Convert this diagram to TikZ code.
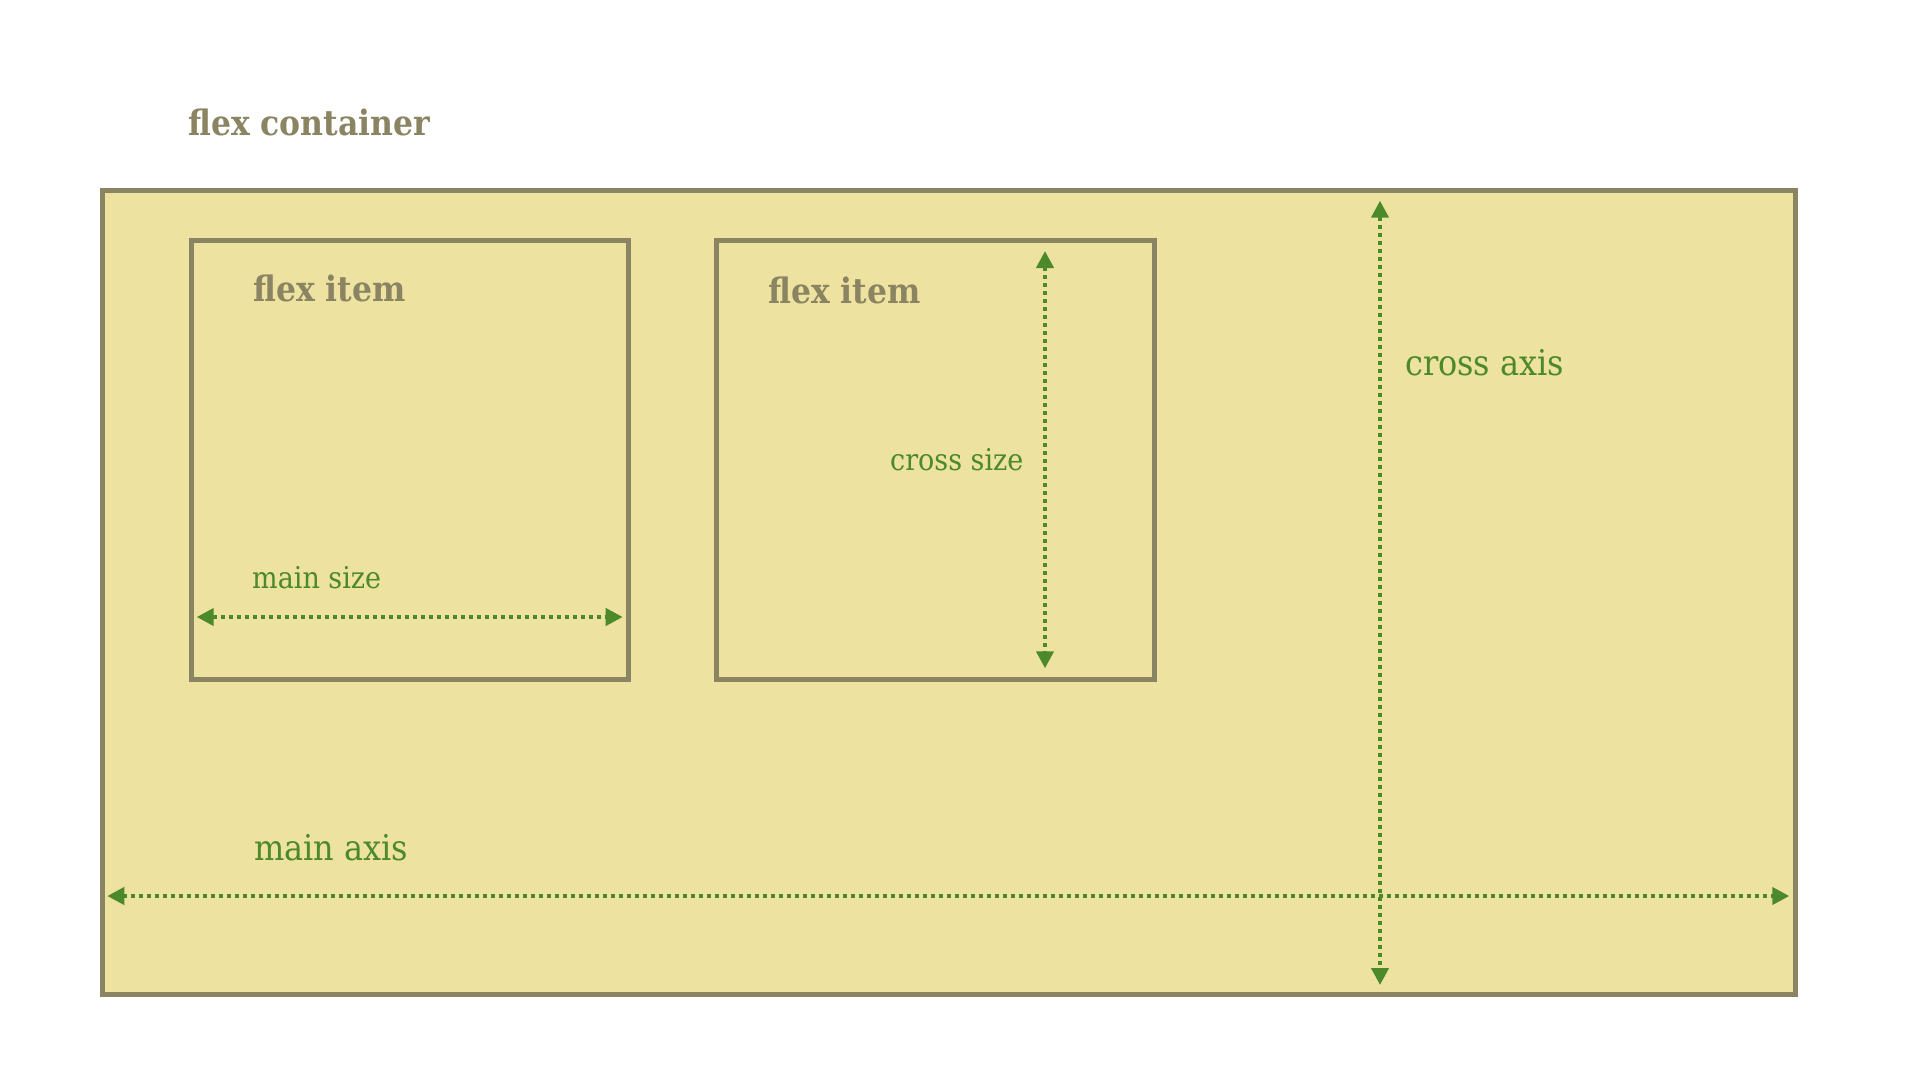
\documentclass[tikz,border=0pt]{standalone}
\usepackage{fontspec}
\setmainfont{DejaVu Serif Condensed}
\usetikzlibrary{arrows.meta}
\definecolor{boxfill}{HTML}{EDE29F}
\definecolor{boxline}{HTML}{8A8462}
\definecolor{arrowgreen}{HTML}{4C892B}
\tikzset{
  containerbox/.style={draw=boxline, fill=boxfill, line width=5pt, inner sep=0pt, outer sep=0pt},
  itembox/.style={draw=boxline, line width=5pt, inner sep=0pt, outer sep=0pt},
  titletext/.style={anchor=base west, inner sep=0pt, text=boxline, font=\bfseries\fontsize{35}{38}\selectfont},
  biglabel/.style={anchor=base west, inner sep=0pt, text=arrowgreen, font=\fontsize{35.5}{38}\selectfont},
  smalllabel/.style={anchor=base west, inner sep=0pt, text=arrowgreen, font=\fontsize{30}{32}\selectfont},
  dotarrow/.style={draw=arrowgreen, line width=4pt, dash pattern=on 4pt off 4pt,
    {Triangle[length=17pt,width=17pt]}-{Triangle[length=17pt,width=17pt]}}
}
\begin{document}
\begin{tikzpicture}[x=1pt,y=-1pt]
\useasboundingbox (0,0) rectangle (1920,1080);
\fill[white] (0,0) rectangle (1920,1080);
% container
\node[containerbox, minimum width=1693pt, minimum height=803.3pt, anchor=north west] (container) at (102,190.7) {};
\node[titletext] (ctitle) at (188,135) {flex container};
% items
\node[itembox, minimum width=437.5pt, minimum height=438.5pt, anchor=north west] (item1) at (191,240.5) {};
\node[itembox, minimum width=438pt, minimum height=438.5pt, anchor=north west] (item2) at (716,240.5) {};
\node[titletext] (t1) at (253,301.7) {flex item};
\node[titletext] (t2) at (768,303) {flex item};
% main size
\coordinate (msL) at (196.7,617);
\coordinate (msR) at (622.7,617);
\draw[dotarrow] (msL) -- (msR);
\node[smalllabel] (mslabel) at (252,588.3) {main size};
% cross size
\coordinate (csT) at (1045,251);
\coordinate (csB) at (1045,668.3);
\draw[dotarrow] (csT) -- (csB);
\node[smalllabel] (cslabel) at (890,470) {cross size};
% main axis
\coordinate (maL) at (107.3,896);
\coordinate (maR) at (1789.3,896);
\draw[dotarrow] (maL) -- (maR);
\node[biglabel] (malabel) at (254,860.7) {main axis};
% cross axis
\coordinate (caT) at (1380,200.7);
\coordinate (caB) at (1380,985);
\draw[dotarrow] (caT) -- (caB);
\node[biglabel] (calabel) at (1405,375) {cross axis};
\end{tikzpicture}
\end{document}
